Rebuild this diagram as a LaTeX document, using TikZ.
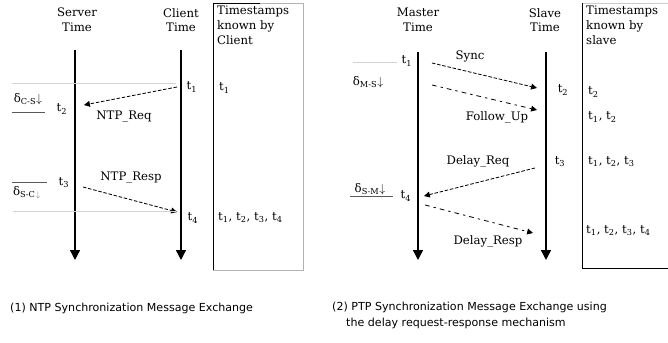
\documentclass[tikz,border=0pt]{standalone}
\usepackage{fontspec}
\setmainfont{DejaVu Serif}
\setsansfont{DejaVu Sans}
\usetikzlibrary{arrows.meta}

\begin{document}
\begin{tikzpicture}[x=0.03cm, y=-0.03cm,
    lbl/.style={font=\fontsize{10}{12.5}\selectfont, inner sep=0pt},
    head/.style={font=\fontsize{10}{12.5}\selectfont, align=center, inner sep=0pt},
    stamps/.style={font=\fontsize{10}{12.5}\selectfont, align=left, inner sep=0pt},
    timeline/.style={line width=1.2pt, -{Triangle[length=8.5pt,width=8.5pt]}},
    msg/.style={line width=0.7pt, dash pattern=on 3pt off 1.5pt, -{Triangle[length=5pt,width=5pt]}},
    msgloose/.style={line width=0.7pt, dash pattern=on 4pt off 3.5pt on 2pt off 3.5pt, -{Triangle[length=5pt,width=5pt]}},
    guide/.style={gray!35, line width=0.7pt},
    captext/.style={font=\sffamily\fontsize{9.45}{13.6}\selectfont, align=left, inner sep=0pt}]

    \useasboundingbox (0,0) rectangle (668,343);

    % ---------------- (1) NTP ----------------
    % column headers
    \node[head] (server) at (77,20) {Server\\Time};
    \node[head] (client) at (181,20) {Client\\Time};
    \node[stamps, anchor=north west] (ntpstamps) at (217,6) {Timestamps\\known by\\Client};

    % timestamps box
    \draw[black] (213,270) -- (213,3) -- (260,3);
    \draw[gray!60] (260,3) -- (303,3) -- (303,270) -- (213,270);

    % time lines
    \coordinate (stop) at (75,50);
    \coordinate (sbot) at (75,260);
    \coordinate (ctop) at (181,50);
    \coordinate (cbot) at (181,260);
    \draw[timeline] (stop) -- (sbot);
    \draw[timeline] (ctop) -- (cbot);

    % request
    \draw[guide] (12,83) -- (176,83);
    \node[lbl] (ct1) at (192,87) {t\textsubscript{1}};
    \node[stamps, anchor=west] (kt1) at (219,88) {t\textsubscript{1}};
    \node[lbl] (st2) at (62,109) {t\textsubscript{2}};
    \node[lbl] (dcs) at (28,99) {δ\textsubscript{C-S}$\downarrow$};
    \draw[gray!70!black, line width=0.7pt] (12,112) -- (45,112);
    \coordinate (c1) at (177,87);
    \coordinate (s2) at (84,105);
    \draw[msg] (c1) -- (s2);
    \node[lbl] (ntpreq) at (124,117) {NTP\_Req};

    % response
    \node[lbl] (ntpresp) at (131,178) {NTP\_Resp};
    \node[lbl] (st3) at (64,183) {t\textsubscript{3}};
    \node[lbl] (dsc) at (27,193) {δ\textsubscript{S-C}{\color{gray}$_{\downarrow}$}};
    \draw[gray!70!black, line width=0.7pt] (12,182) -- (47,182);
    \coordinate (s3) at (83,187);
    \coordinate (c4) at (177,212);
    \draw[msg] (s3) -- (c4);
    \draw[guide] (13,211) -- (176,211);
    \node[lbl] (ct4) at (193,218) {t\textsubscript{4}};
    \node[stamps, anchor=west] (kt1234) at (218,218) {t\textsubscript{1}, t\textsubscript{2}, t\textsubscript{3}, t\textsubscript{4}};

    % caption
    \node[captext, anchor=west] (capntp) at (10,308) {(1) NTP Synchronization Message Exchange};

    % ---------------- (2) PTP ----------------
    % column headers
    \node[head] (master) at (418,20) {Master\\Time};
    \node[head] (slave) at (545,20) {Slave\\Time};
    \node[stamps, anchor=north west] (ptpstamps) at (586,6) {Timestamps\\known by\\slave};

    % timestamps box
    \draw[gray!40] (582,3) -- (668,3);
    \draw[black] (582,3) -- (582,268) -- (668,268);

    % time lines
    \coordinate (mtop) at (418,52);
    \coordinate (mbot) at (418,260);
    \coordinate (sltop) at (546,52);
    \coordinate (slbot) at (546,260);
    \draw[timeline] (mtop) -- (mbot);
    \draw[timeline] (sltop) -- (slbot);

    % sync and follow up
    \draw[guide] (353,62) -- (397,62);
    \node[lbl] (mt1) at (407,61) {t\textsubscript{1}};
    \node[lbl] (dms) at (368,82) {δ\textsubscript{M-S}$\downarrow$};
    \node[lbl] (sync) at (470,56) {Sync};
    \coordinate (m1) at (432,63);
    \coordinate (sl2) at (537,88);
    \draw[msg] (m1) -- (sl2);
    \node[lbl] (slt2) at (563,90) {t\textsubscript{2}};
    \node[stamps, anchor=west] (pt2) at (588,92) {t\textsubscript{2}};
    \coordinate (m1b) at (432,85);
    \coordinate (sl2b) at (537,110);
    \draw[msgloose] (m1b) -- (sl2b);
    \node[lbl] (followup) at (497,117) {Follow\_Up};
    \node[stamps, anchor=west] (pt12) at (588,117) {t\textsubscript{1}, t\textsubscript{2}};

    % delay request and response
    \node[lbl] (delayreq) at (478,161) {Delay\_Req};
    \node[lbl] (slt3) at (560,162) {t\textsubscript{3}};
    \node[stamps, anchor=west] (pt123) at (588,162) {t\textsubscript{1}, t\textsubscript{2}, t\textsubscript{3}};
    \coordinate (sl3) at (535,168);
    \coordinate (m4) at (424,196);
    \draw[msg] (sl3) -- (m4);
    \node[lbl] (dsm) at (370,189) {δ\textsubscript{S-M}$\downarrow$};
    \draw[gray!70!black, line width=0.7pt] (350,196) -- (393,196);
    \node[lbl] (mt4) at (406,196) {t\textsubscript{4}};
    \coordinate (m4b) at (425,205);
    \coordinate (sl4) at (533,233);
    \draw[msgloose] (m4b) -- (sl4);
    \node[lbl] (delayresp) at (488,241) {Delay\_Resp};
    \node[stamps, anchor=west] (pt1234) at (586,231) {t\textsubscript{1}, t\textsubscript{2}, t\textsubscript{3}, t\textsubscript{4}};

    % caption
    \node[captext, anchor=north west] (capptp) at (332,302) {(2) PTP Synchronization Message Exchange using\\\hspace{0.42cm}the delay request-response mechanism};
\end{tikzpicture}
\end{document}
